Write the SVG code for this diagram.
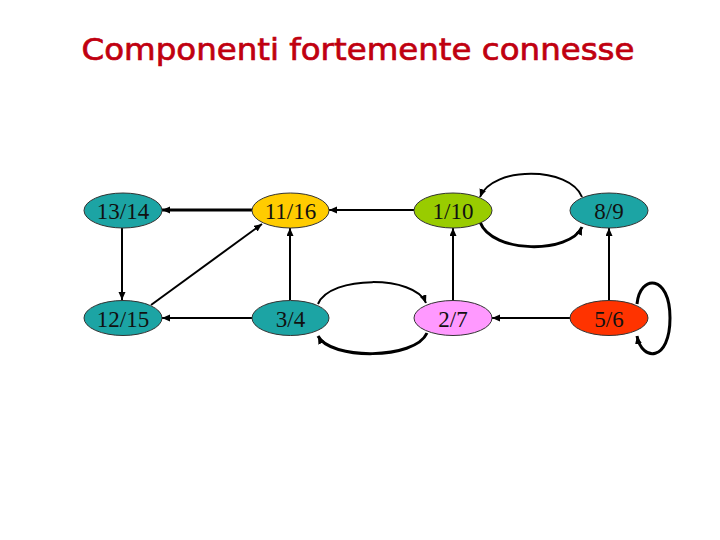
<svg xmlns="http://www.w3.org/2000/svg" width="720" height="540" viewBox="0 0 720 540">
<style>
.node ellipse{stroke:#333;stroke-width:1}
.node text{font-family:"Liberation Serif","Times New Roman",serif;font-size:23px;fill:#111;text-anchor:middle}
.edge{fill:none;stroke:#000;stroke-width:2;marker-end:url(#ah)}
.thick{stroke-width:3}
.title{font-family:"DejaVu Sans","Liberation Sans",sans-serif;font-size:31px;fill:#C00010;stroke:#C00010;stroke-width:0.7}
</style>
<defs>
<marker id="ah" markerUnits="userSpaceOnUse" markerWidth="9" markerHeight="8" refX="8" refY="3.5" orient="auto">
<path d="M0,0 L8,3.5 L0,7 z" fill="#000"/>
</marker>
</defs>
<rect width="720" height="540" fill="#fff"/>
<text class="title" x="358" y="60" text-anchor="middle" textLength="553" lengthAdjust="spacingAndGlyphs">Componenti fortemente connesse</text>
<g id="connectors">
<path class="edge thick" d="M252,210 L162,210"/>
<path class="edge" d="M414,210 L329,210"/>
<path class="edge" d="M122,228 L122,300"/>
<path class="edge" d="M151,305 L262,224"/>
<path class="edge" d="M290,300 L290,228"/>
<path class="edge" d="M252,318 L162,318"/>
<path class="edge" d="M453,300 L453,228"/>
<path class="edge" d="M570,318 L492,318"/>
<path class="edge" d="M609,300 L609,228"/>
<path class="edge" d="M318,304 C330,275 415,275 426,303"/>
<path class="edge thick" d="M427,333 C415,360 330,360 318,336"/>
<path class="edge" d="M582,197 C570,166 492,166 480,197"/>
<path class="edge thick" d="M480,222 C492,254 570,254 582,227"/>
<path class="edge thick" d="M637,304 C640,274 670,274 670,318 C670,362 642,362 637,336"/>
</g>
<g id="n1314" class="node"><ellipse cx="123" cy="210.5" rx="39" ry="17.5" fill="#1CA4A4"/><text x="123" y="219">13/14</text></g>
<g id="n1116" class="node"><ellipse cx="290.5" cy="210.5" rx="38.5" ry="17.5" fill="#FFCC00"/><text x="290.5" y="219">11/16</text></g>
<g id="n110" class="node"><ellipse cx="453" cy="210.5" rx="39" ry="17.5" fill="#99CC00"/><text x="453" y="219">1/10</text></g>
<g id="n89" class="node"><ellipse cx="609" cy="210.5" rx="39" ry="17.5" fill="#1CA4A4"/><text x="609" y="219">8/9</text></g>
<g id="n1215" class="node"><ellipse cx="123" cy="318" rx="39" ry="17.5" fill="#1CA4A4"/><text x="123" y="327">12/15</text></g>
<g id="n34" class="node"><ellipse cx="290.5" cy="318" rx="38.5" ry="17.5" fill="#1CA4A4"/><text x="290.5" y="327">3/4</text></g>
<g id="n27" class="node"><ellipse cx="453" cy="318" rx="39" ry="17.5" fill="#FF99FF"/><text x="453" y="327">2/7</text></g>
<g id="n56" class="node"><ellipse cx="609" cy="318" rx="39" ry="17.5" fill="#FF3300"/><text x="609" y="327">5/6</text></g>
</svg>
